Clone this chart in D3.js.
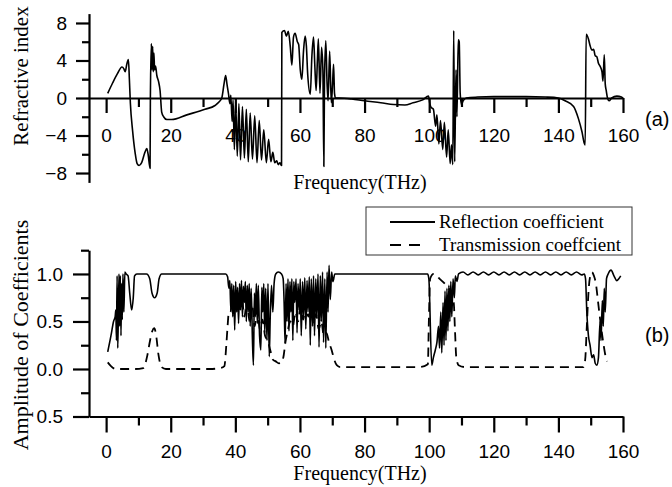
<!DOCTYPE html>
<html>
<head>
<meta charset="utf-8">
<script src="https://cdn.jsdelivr.net/npm/d3@7"></script>
<style>
  html, body { margin: 0; padding: 0; background: #fff; }
  svg { display: block; }
</style>
</head>
<body>
<div id="chart"></div>
<script>
// ---------------------------------------------------------------------------
// Data: [frequency (THz), value]
// ---------------------------------------------------------------------------
const refractiveIndex = [
  [0.5, 0.5], [2, 1.6], [3.5, 2.6], [4.9, 3.3], [5.5, 3.1], [5.9, 2.8], [6.4, 3.6], [6.9, 4.1],
  [7.2, 2.0], [7.5, -0.5], [8.2, -3.5], [9.0, -5.9], [9.6, -7.0], [10.2, -7.2], [11.0, -6.9],
  [12.0, -5.8], [12.6, -5.4], [13.0, -6.0], [13.6, -7.5], [13.7, 0], [14.0, 5.8], [14.2, 3.0],
  [14.4, 5.5], [14.6, 2.8], [14.8, 4.8], [15.0, 3.0], [15.3, 3.4], [15.7, 2.4], [16.2, 1.8],
  [16.7, 0.8], [17.2, -1.5], [17.8, -2.0], [18.8, -2.3], [20.3, -2.3], [25, -1.8], [30.6, -1.2],
  [33.7, -0.8], [35, -0.4], [35.8, 0], [36.5, 1.5], [37.0, 2.4], [37.4, 1.5], [37.9, 0.4],
  [38.3, -0.6], [38.6, 0.3], [39.0, -2.5], [39.3, -0.2], [39.7, -5.5], [40.1, -0.4], [40.6, -6.2],
  [41.1, -0.6], [41.6, -6.6], [42.2, -0.9], [42.8, -6.4], [43.4, -1.2], [44.0, -6.8], [44.6, -1.6],
  [45.3, -6.5], [46.0, -1.9], [46.7, -6.9], [47.4, -2.4], [48.1, -6.6], [48.8, -3.4], [49.6, -6.9],
  [50.3, -4.4], [51.0, -6.8], [51.6, -5.8], [52.2, -6.9], [52.8, -6.7], [53.3, -7.1], [53.8, -6.9],
  [54.3, -7.2], [54.4, 7.0], [55.2, 7.2], [55.8, 6.6], [56.4, 7.1], [57.0, 5.5], [57.5, 3.5],
  [58.0, 6.5], [58.5, 6.9], [59.2, 6.0], [59.6, 5.7], [60.1, 3.0], [60.6, 2.0], [61.1, 5.0],
  [61.6, 6.6], [62.0, 5.5], [62.4, 2.5], [63.2, 0.4], [63.7, 4.5], [64.2, 6.5], [64.6, 3.5],
  [65.0, 0.8], [65.4, 4.0], [65.7, 6.3], [66.2, 0.5], [66.7, 5.4], [67.1, 3.0], [67.4, -7.3],
  [67.6, 2.0], [68.0, 6.1], [68.4, 1.5], [68.7, -0.3], [69.2, 5.0], [69.7, -0.5], [70.1, 1.5],
  [70.4, 3.6], [70.7, 0.5], [71.0, 0.0], [72.2, 0.0], [76, -0.1], [80, -0.3], [85, -0.5],
  [89, -0.7], [92.5, -0.75], [95, -0.5], [98, -0.2], [99.8, 0.2], [100.2, -0.6], [100.6, -1.0],
  [101.3, -1.2], [102.0, -3.0], [102.4, -1.8], [103.0, -4.9], [103.5, -2.4], [104.2, -5.5],
  [104.7, -2.6], [105.4, -6.3], [105.9, -3.4], [106.5, -7.0], [106.9, -5.0], [107.3, -7.1],
  [107.6, 7.2], [107.9, -6.8], [108.3, 3.0], [108.6, -2.0], [109.0, 6.2], [109.3, 6.0],
  [109.6, 0.5], [110.0, -0.7], [110.5, -0.3], [111.5, 0.0], [115, 0.1], [120, 0.15], [130, 0.15],
  [136, 0.1], [140, 0.0], [142.1, -0.3], [144.7, -0.9], [146.2, -2.2], [147.3, -3.6], [148.0, -4.8],
  [148.3, -5.0], [148.6, 6.8], [149.3, 6.3], [149.8, 5.6], [150.4, 5.1], [150.9, 5.2], [151.4, 4.5],
  [151.9, 4.4], [152.4, 3.7], [152.9, 3.4], [153.5, 2.8], [153.8, 1.8], [154.2, 4.6], [154.5, 1.5],
  [154.8, 0.8], [155.2, 0.0], [155.7, -0.3], [156.5, 0.0], [158.1, 0.2], [159.5, 0.1], [160, 0.0]
];

const reflection = [
  [0.5, 0.18], [1.5, 0.35], [2.3, 0.5], [2.8, 0.55], [3.0, 0.62], [3.2, 0.3], [3.4, 0.98],
  [3.6, 0.22], [3.8, 0.6], [4.0, 1.0], [4.2, 0.45], [4.4, 0.98], [4.6, 0.35], [4.8, 0.9],
  [5.0, 0.52], [5.2, 1.0], [5.5, 0.6], [5.8, 1.02], [6.2, 1.0], [6.8, 0.98], [7.3, 0.8],
  [7.9, 0.62], [8.4, 0.75], [8.8, 0.98], [9.5, 1.0], [12.5, 1.0], [13.5, 0.95], [14.2, 0.8],
  [15.0, 0.75], [15.8, 0.8], [16.4, 0.95], [17.2, 1.0], [37.0, 1.0], [37.6, 0.97], [38.0, 0.85],
  [38.3, 0.93], [38.6, 0.62], [38.9, 0.9], [39.2, 0.55], [39.5, 0.88], [39.8, 0.41], [40.1, 0.92],
  [40.4, 0.6], [40.7, 0.86], [41.0, 0.48], [41.3, 0.9], [41.6, 0.62], [41.9, 0.93], [42.2, 0.55],
  [42.5, 0.87], [42.8, 0.7], [43.1, 0.92], [43.4, 0.5], [43.7, 0.88], [44.0, 0.6], [44.3, 0.9],
  [44.6, 0.45], [44.9, 0.85], [45.3, 0.3], [45.6, 0.04], [45.9, 0.8], [46.2, 0.55], [46.5, 0.9],
  [46.8, 0.48], [47.1, 0.88], [47.5, 0.35], [47.9, 0.2], [48.2, 0.86], [48.5, 0.6], [48.8, 0.9],
  [49.1, 0.38], [49.4, 0.85], [49.8, 0.3], [50.1, 0.9], [50.5, 0.13], [50.8, 0.55], [51.2, 0.88],
  [51.6, 0.6], [52.0, 0.9], [52.5, 1.0], [53.3, 1.02], [54.3, 1.0], [54.8, 0.95], [55.1, 0.7],
  [55.4, 0.27], [55.7, 0.9], [56.0, 0.5], [56.3, 0.95], [56.6, 0.4], [56.9, 0.92], [57.2, 0.6],
  [57.5, 0.95], [57.8, 0.3], [58.1, 0.92], [58.4, 0.7], [58.8, 0.95], [59.1, 0.38], [59.4, 0.9],
  [59.8, 0.62], [60.1, 0.95], [60.4, 0.35], [60.8, 0.92], [61.1, 0.55], [61.5, 0.96], [61.8, 0.42],
  [62.2, 0.93], [62.5, 0.6], [62.9, 0.97], [63.2, 0.25], [63.5, 0.95], [63.9, 0.45], [64.2, 0.98],
  [64.5, 0.35], [64.9, 0.95], [65.2, 0.55], [65.6, 1.0], [65.9, 0.23], [66.3, 0.98], [66.6, 0.5],
  [67.0, 1.02], [67.3, 0.28], [67.7, 0.95], [68.0, 0.22], [68.4, 1.02], [68.7, 0.6], [69.0, 1.09],
  [69.4, 0.73], [69.8, 1.02], [70.2, 0.92], [70.8, 1.0], [71.6, 1.0], [99.5, 1.0], [99.9, 0.95],
  [100.8, 0.04], [101.3, 0.12], [101.9, 0.2], [102.4, 0.28], [102.9, 0.45], [103.2, 0.22],
  [103.6, 0.6], [103.9, 0.17], [104.3, 0.7], [104.6, 0.25], [104.9, 0.82], [105.2, 0.3],
  [105.5, 0.85], [105.8, 0.4], [106.1, 0.88], [106.4, 0.5], [106.7, 0.92], [107.0, 0.55],
  [107.4, 0.95], [107.8, 0.75], [108.1, 0.98], [108.6, 0.92], [109.1, 1.0], [110.5, 1.02],
  [112.0, 0.99], [113.6, 1.02], [115.2, 0.99], [116.8, 1.02], [118.4, 0.99], [120.0, 1.02],
  [121.6, 0.99], [123.2, 1.02], [124.8, 0.99], [126.4, 1.02], [128.0, 0.99], [129.6, 1.02],
  [131.2, 0.99], [132.8, 1.02], [134.4, 0.99], [136.0, 1.02], [137.6, 0.99], [139.2, 1.02],
  [140.8, 0.99], [142.4, 1.02], [144.0, 0.99], [145.6, 1.02], [147.2, 0.99], [148.0, 1.0],
  [148.4, 0.95], [148.8, 0.6], [149.3, 0.35], [149.8, 0.25], [150.4, 0.12], [150.9, 0.15],
  [151.4, 0.06], [151.9, 0.04], [152.4, 0.12], [152.9, 0.5], [153.2, 0.3], [153.6, 0.72],
  [153.9, 0.45], [154.2, 0.85], [154.5, 0.6], [154.9, 0.95], [155.4, 1.0], [156.3, 1.04],
  [157.2, 0.98], [158.1, 0.93], [158.7, 0.95], [159.3, 0.98]
];

const transmission = [
  [0.5, 0.07], [1.5, 0.03], [3.0, 0.0], [6, 0.0], [9, 0.0], [11.5, 0.01], [12.8, 0.15],
  [13.6, 0.3], [14.3, 0.4], [14.9, 0.43], [15.5, 0.35], [16.2, 0.15], [17.2, 0.02], [18.5, 0.0],
  [25, 0.0], [32, 0.0], [35.5, 0.01], [36.6, 0.03], [37.2, 0.25], [37.6, 0.45], [38.0, 0.6],
  [38.5, 0.6], [39.2, 0.78], [39.8, 0.62], [40.5, 0.82], [41.2, 0.6], [42.0, 0.75], [42.8, 0.55],
  [43.6, 0.72], [44.4, 0.5], [45.2, 0.68], [46.0, 0.45], [46.8, 0.62], [47.6, 0.42], [48.4, 0.52],
  [49.2, 0.35], [50.0, 0.3], [50.8, 0.2], [51.6, 0.1], [52.5, 0.08], [53.5, 0.06], [54.4, 0.07],
  [55.0, 0.15], [55.5, 0.28], [56.2, 0.4], [57.0, 0.5], [57.8, 0.45], [58.6, 0.6], [59.4, 0.5],
  [60.2, 0.65], [61.0, 0.52], [61.8, 0.68], [62.6, 0.55], [63.4, 0.62], [64.2, 0.48], [65.0, 0.58],
  [65.8, 0.42], [66.6, 0.5], [67.4, 0.35], [68.2, 0.38], [69.0, 0.28], [69.8, 0.2], [70.6, 0.1],
  [71.4, 0.04], [72.5, 0.02], [80, 0.02], [90, 0.02], [97, 0.02], [99.6, 0.05], [99.9, 0.5],
  [100.3, 0.95], [101.4, 1.0], [103.5, 0.94], [105.5, 0.87], [106.8, 0.8], [107.6, 0.7],
  [108.0, 0.4], [108.4, 0.12], [109.1, 0.04], [111.2, 0.02], [120, 0.02], [130, 0.02],
  [140, 0.02], [147.8, 0.02], [148.3, 0.1], [148.8, 0.45], [149.3, 0.8], [149.8, 0.97],
  [150.4, 1.02], [151.0, 0.98], [151.6, 0.9], [152.3, 0.7], [153.0, 0.5], [153.8, 0.3],
  [154.5, 0.15], [155.0, 0.08]
];

// ticks
const freqTicks = [0, 20, 40, 60, 80, 100, 120, 140, 160];
const freqMinor = [10, 30, 50, 70, 90, 110, 130, 150];
const indexTicks = [8, 4, 0, -4, -8];
const indexMinor = [6, 2, -2, -6];
const ampTicks = [1.0, 0.5, 0.0, -0.5];
const ampTickLabels = ["1.0", "0.5", "0.0", "0.5"];
const ampMinor = [1.25, 0.75, 0.25, -0.25];

const seriesNames = ["Reflection coefficient", "Transmission coeffcient"];

// ---------------------------------------------------------------------------
const W = 672, H = 487;
const tickFont = "'Liberation Sans', Arial, sans-serif";
const titleFont = "'Liberation Serif', 'Times New Roman', serif";

const svg = d3.select("#chart").append("svg")
    .attr("width", W)
    .attr("height", H)
    .style("background", "#fff");

const x = d3.scaleLinear().domain([-5.3, 160]).range([89, 623]);
const yN = d3.scaleLinear().domain([-9, 9]).range([182.4, 13.6]);
const yA = d3.scaleLinear().domain([-0.5, 1.25]).range([416.5, 250.2]);

function styleAxis(g) {
    g.selectAll("path, line").attr("stroke", "#000").attr("stroke-width", 2.2);
    g.selectAll("text").attr("font-family", tickFont).attr("font-size", 19).attr("fill", "#000");
}

// ---------------- panel (a) ----------------
const panelA = svg.append("g");

panelA.append("g")
    .attr("transform", `translate(0,${yN(0)})`)
    .call(d3.axisBottom(x).tickValues(freqTicks).tickSize(15).tickSizeOuter(0).tickPadding(15.5))
    .call(styleAxis);
panelA.append("g")
    .attr("transform", `translate(0,${yN(0)})`)
    .call(d3.axisBottom(x).tickValues(freqMinor).tickSize(9).tickFormat(""))
    .call(styleAxis)
    .select(".domain").remove();

panelA.append("g")
    .attr("transform", `translate(${x.range()[0]},0)`)
    .call(d3.axisLeft(yN).tickValues(indexTicks).tickSize(13).tickSizeOuter(0).tickPadding(9)
        .tickFormat(d3.format("d")))
    .call(styleAxis);
panelA.append("g")
    .attr("transform", `translate(${x.range()[0]},0)`)
    .call(d3.axisLeft(yN).tickValues(indexMinor).tickSize(7).tickFormat(""))
    .call(styleAxis)
    .select(".domain").remove();

const lineN = d3.line()
    .x(d => x(d[0]))
    .y(d => yN(d[1]))
    .curve(d3.curveMonotoneX);

panelA.append("path")
    .datum(refractiveIndex)
    .attr("d", lineN)
    .attr("fill", "none")
    .attr("stroke", "#000")
    .attr("stroke-width", 1.6)
    .attr("stroke-linejoin", "round");

panelA.append("text")
    .attr("transform", "translate(28,76) rotate(-90)")
    .attr("text-anchor", "middle")
    .attr("font-family", titleFont)
    .attr("font-size", 21)
    .text("Refractive index");

panelA.append("text")
    .attr("x", 360).attr("y", 189)
    .attr("text-anchor", "middle")
    .attr("font-family", titleFont)
    .attr("font-size", 20)
    .text("Frequency(THz)");

panelA.append("text")
    .attr("x", 645).attr("y", 126)
    .attr("font-family", tickFont)
    .attr("font-size", 20)
    .text("(a)");

// ---------------- panel (b) ----------------
const panelB = svg.append("g");

panelB.append("g")
    .attr("transform", `translate(0,${yA(-0.5)})`)
    .call(d3.axisBottom(x).tickValues(freqTicks).tickSize(16).tickSizeOuter(0).tickPadding(12))
    .call(styleAxis);
panelB.append("g")
    .attr("transform", `translate(0,${yA(-0.5)})`)
    .call(d3.axisBottom(x).tickValues(freqMinor).tickSize(9).tickFormat(""))
    .call(styleAxis)
    .select(".domain").remove();

panelB.append("g")
    .attr("transform", `translate(${x.range()[0]},0)`)
    .call(d3.axisLeft(yA).tickValues(ampTicks).tickSize(16).tickSizeOuter(0).tickPadding(10)
        .tickFormat((d, i) => ampTickLabels[i]))
    .call(styleAxis);
panelB.append("g")
    .attr("transform", `translate(${x.range()[0]},0)`)
    .call(d3.axisLeft(yA).tickValues(ampMinor).tickSize(8).tickFormat(""))
    .call(styleAxis)
    .select(".domain").remove();

const lineA = d3.line()
    .x(d => x(d[0]))
    .y(d => yA(d[1]))
    .curve(d3.curveMonotoneX);

panelB.append("path")
    .datum(transmission)
    .attr("d", lineA)
    .attr("fill", "none")
    .attr("stroke", "#000")
    .attr("stroke-width", 1.8)
    .attr("stroke-dasharray", "9,6");

panelB.append("path")
    .datum(reflection)
    .attr("d", lineA)
    .attr("fill", "none")
    .attr("stroke", "#000")
    .attr("stroke-width", 1.6)
    .attr("stroke-linejoin", "round");

panelB.append("text")
    .attr("transform", "translate(28,335) rotate(-90)")
    .attr("text-anchor", "middle")
    .attr("font-family", titleFont)
    .attr("font-size", 22)
    .text("Amplitude of Coefficients");

panelB.append("text")
    .attr("x", 360).attr("y", 480)
    .attr("text-anchor", "middle")
    .attr("font-family", titleFont)
    .attr("font-size", 20)
    .text("Frequency(THz)");

panelB.append("text")
    .attr("x", 645).attr("y", 342)
    .attr("font-family", tickFont)
    .attr("font-size", 20)
    .text("(b)");

// legend
const legend = svg.append("g");
legend.append("rect")
    .attr("x", 366).attr("y", 207)
    .attr("width", 266).attr("height", 48)
    .attr("fill", "#fff")
    .attr("stroke", "#333")
    .attr("stroke-width", 1);

seriesNames.forEach((name, i) => {
    const ly = 222 + i * 23;
    legend.append("line")
        .attr("x1", 390).attr("x2", i === 0 ? 435 : 420)
        .attr("y1", ly).attr("y2", ly)
        .attr("stroke", "#000")
        .attr("stroke-width", 1.8)
        .attr("stroke-dasharray", i === 0 ? null : "11,8");
    legend.append("text")
        .attr("x", 439).attr("y", ly + 6)
        .attr("font-family", titleFont)
        .attr("font-size", 19)
        .text(name);
});
</script>
</body>
</html>
